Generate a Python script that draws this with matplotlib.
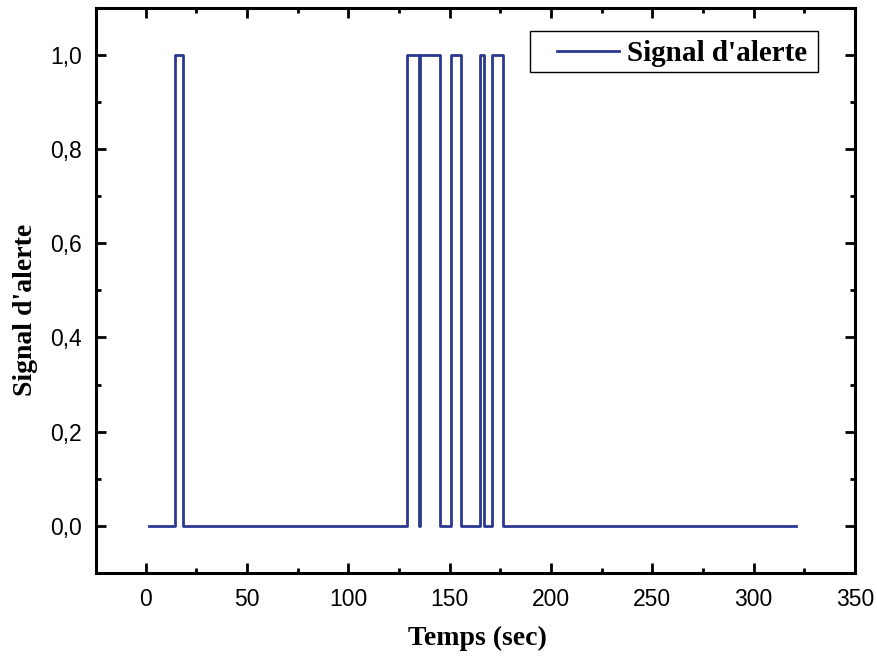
import matplotlib.pyplot as plt
from matplotlib.patches import Rectangle
from matplotlib.ticker import MultipleLocator

# step signal: times where the level changes, and the level after that time
times = [1.9, 14.7, 18.4, 129.2, 134.8, 135.3, 145.0, 150.5, 155.8, 164.8, 166.8, 171.0, 176.5, 321.0]
levels = [0, 1, 0, 1, 0, 1, 0, 1, 0, 1, 0, 1, 0, 0]

x_ticks = [0, 50, 100, 150, 200, 250, 300, 350]
y_ticks = [0.0, 0.2, 0.4, 0.6, 0.8, 1.0]
y_tick_labels = ["0,0", "0,2", "0,4", "0,6", "0,8", "1,0"]

fig = plt.figure(figsize=(8.78, 6.6), dpi=100)
ax = fig.add_axes([0.1093, 0.132, 0.8645, 0.856])

ax.plot(times, levels, drawstyle="steps-post", color="#2b3990", linewidth=2.0,
        label="Signal d'alerte")

ax.set_xlim(-24.5, 350)
ax.set_ylim(-0.1, 1.1)
ax.set_xticks(x_ticks)
ax.set_yticks(y_ticks)
ax.set_yticklabels(y_tick_labels)
ax.xaxis.set_minor_locator(MultipleLocator(25))
ax.yaxis.set_minor_locator(MultipleLocator(0.1))

for s in ax.spines.values():
    s.set_linewidth(2.2)
ax.tick_params(which="both", direction="in", top=True, right=True, width=2.0)
ax.tick_params(which="major", length=7.5)
ax.tick_params(axis="x", which="major", pad=11)
ax.tick_params(axis="y", which="major", pad=10)
ax.tick_params(which="minor", length=3.8)
for lab in ax.get_xticklabels() + ax.get_yticklabels():
    lab.set_fontfamily("Liberation Sans")
    lab.set_fontsize(16.5)

ax.set_xlabel("Temps (sec)", family="Liberation Serif", fontweight="bold",
              fontsize=20)
ax.set_ylabel("Signal d'alerte", family="Liberation Serif", fontweight="bold",
              fontsize=20)
ax.xaxis.set_label_coords(0.503, -0.093)
ax.yaxis.set_label_coords(-0.077, 0.465)

# legend drawn without its own frame; box added separately for wider left padding
leg = ax.legend(loc="center left", bbox_to_anchor=(0.607, 0.919), frameon=False,
                prop={"family": "Liberation Serif", "weight": "bold", "size": 21},
                handlelength=2.15, handletextpad=0.25, borderpad=0, borderaxespad=0)
ax.add_patch(Rectangle((0.572, 0.887), 0.379, 0.072, transform=ax.transAxes,
                       fill=False, edgecolor="black", linewidth=1.0, zorder=5))

fig.savefig("out.png", dpi=100)
